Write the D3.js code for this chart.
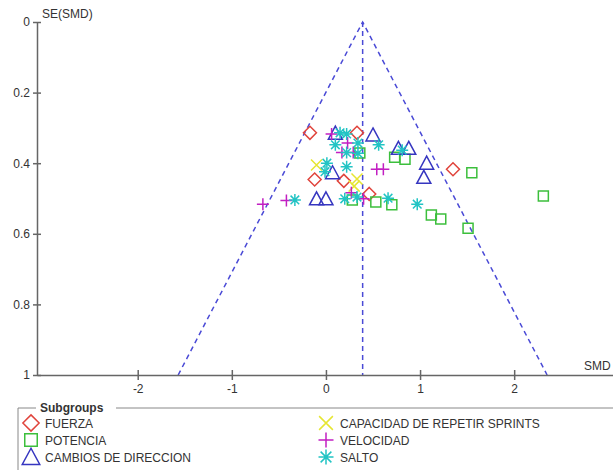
<!DOCTYPE html>
<html>
<head>
<meta charset="utf-8">
<script src="https://cdn.jsdelivr.net/npm/d3@7"></script>
<style>
  body { margin: 0; background: #fff; }
  svg { display: block; font-family: "Liberation Sans", Arial, sans-serif; }
  .axis text { font-size: 12px; fill: #333; }
  .axis path, .axis line { stroke: #666; stroke-width: 1.5; }
</style>
</head>
<body>
<div id="chart"></div>
<script>
// pooled SMD and funnel limits (SE axis 0..1)
const pooled = 0.39;
const xTicks = [-2, -1, 0, 1, 2];
const yTicks = [0, 0.2, 0.4, 0.6, 0.8, 1];

// [SMD, SE] per study, by subgroup
const fuerza = [[-0.17, 0.314], [0.33, 0.314], [-0.12, 0.446], [0.19, 0.45], [0.46, 0.487], [1.35, 0.417]];
const potencia = [[0.36, 0.371], [0.73, 0.383], [0.84, 0.389], [1.55, 0.427], [2.31, 0.493],
  [0.53, 0.51], [0.70, 0.518], [1.12, 0.547], [1.22, 0.558], [1.51, 0.584], [0.28, 0.504]];
const cambios = [[0.10, 0.315], [0.50, 0.32], [0.77, 0.358], [0.88, 0.358], [1.07, 0.40],
  [1.04, 0.44], [0.07, 0.427], [-0.10, 0.501], [0.0, 0.501]];
const sprints = [[-0.10, 0.405], [0.33, 0.445], [0.30, 0.465]];
const velocidad = [[-0.67, 0.516], [-0.42, 0.506], [0.27, 0.484], [0.06, 0.317], [0.23, 0.343],
  [0.17, 0.37], [0.29, 0.37], [0.54, 0.417], [0.61, 0.417], [0.40, 0.501]];
const salto = [[-0.33, 0.504], [0.20, 0.501], [0.33, 0.496], [0.66, 0.499], [0.97, 0.516],
  [0.15, 0.314], [0.22, 0.317], [0.10, 0.348], [0.34, 0.343], [0.22, 0.37], [0.34, 0.372],
  [0.56, 0.348], [0.01, 0.40], [-0.01, 0.424], [0.22, 0.41], [0.81, 0.363]];

const width = 613, height = 470;

const svg = d3.select("#chart").append("svg")
  .attr("width", width).attr("height", height);

const x = d3.scaleLinear().domain([-3.07, 3.05]).range([37, 613]);
const y = d3.scaleLinear().domain([0, 1]).range([22, 375]);

// symbol paths, centred on 0,0
const shapes = {
  diamond: "M0,-6.5L6.5,0L0,6.5L-6.5,0Z",
  square: "M-5,-5H5V5H-5Z",
  triangle: "M0,-7L7,6H-7Z",
  cross: "M-5.5,-5.5L5.5,5.5M5.5,-5.5L-5.5,5.5",
  plus: "M-6,0H6M0,-6V6",
  star: "M-6,0H6M0,-6V6M-4.3,-4.3L4.3,4.3M4.3,-4.3L-4.3,4.3"
};

const groups = [
  { name: "FUERZA", data: fuerza, shape: "diamond", color: "#e0443c" },
  { name: "POTENCIA", data: potencia, shape: "square", color: "#3cbf3c" },
  { name: "CAMBIOS DE DIRECCION", data: cambios, shape: "triangle", color: "#3636c0" },
  { name: "CAPACIDAD DE REPETIR SPRINTS", data: sprints, shape: "cross", color: "#e6e632" },
  { name: "VELOCIDAD", data: velocidad, shape: "plus", color: "#c21fc2" },
  { name: "SALTO", data: salto, shape: "star", color: "#22c4c4" }
];

// funnel
svg.append("path")
  .attr("d", d3.line()([
    [x(pooled - 1.96), y(1)], [x(pooled), y(0)], [x(pooled + 1.96), y(1)]
  ]))
  .attr("fill", "none").attr("stroke", "#4a4ad6")
  .attr("stroke-width", 1.5).attr("stroke-dasharray", "5,4");
svg.append("line")
  .attr("x1", x(pooled)).attr("x2", x(pooled))
  .attr("y1", y(0)).attr("y2", y(1))
  .attr("stroke", "#4a4ad6").attr("stroke-width", 1.5).attr("stroke-dasharray", "5,4");

// axes
const yAxis = svg.append("g").attr("class", "axis")
  .attr("transform", "translate(37,0)")
  .call(d3.axisLeft(y).tickValues(yTicks).tickSize(4).tickSizeOuter(0).tickPadding(3)
    .tickFormat(d => String(d)));
yAxis.selectAll(".tick line").attr("x1", 4);

const xAxis = svg.append("g").attr("class", "axis")
  .attr("transform", "translate(0,375)")
  .call(d3.axisBottom(x).tickValues(xTicks).tickSize(5).tickSizeOuter(0).tickPadding(4)
    .tickFormat(d => String(d)));
xAxis.selectAll(".tick line").attr("y1", -5);

svg.append("text").attr("x", 42).attr("y", 18)
  .attr("font-size", 12).attr("fill", "#333").text("SE(SMD)");
svg.append("text").attr("x", 584).attr("y", 370)
  .attr("font-size", 12).attr("fill", "#333").text("SMD");

// points
groups.forEach(g => {
  svg.append("g").selectAll("path")
    .data(g.data).enter().append("path")
    .attr("d", shapes[g.shape])
    .attr("transform", d => `translate(${x(d[0])},${y(d[1])})`)
    .attr("fill", "none").attr("stroke", g.color).attr("stroke-width", 1.5);
});

// legend
const lg = svg.append("g");
lg.append("path")
  .attr("d", "M18,475V408H620")
  .attr("fill", "none").attr("stroke", "#888").attr("stroke-width", 1);
lg.append("rect").attr("x", 36).attr("y", 402).attr("width", 80).attr("height", 12).attr("fill", "#fff");
lg.append("text").attr("x", 40).attr("y", 412)
  .attr("font-size", 12).attr("font-weight", "bold").attr("fill", "#333").text("Subgroups");

const item = lg.selectAll(".item").data(groups).enter().append("g")
  .attr("transform", (d, i) => `translate(${i < 3 ? 31 : 326},${423 + (i % 3) * 17})`);
item.append("path")
  .attr("d", d => shapes[d.shape])
  .attr("transform", "scale(1.25)")
  .attr("fill", "none").attr("stroke", d => d.color).attr("stroke-width", 1.2);
item.append("text").attr("x", 14).attr("y", 4.5)
  .attr("font-size", 12).attr("fill", "#333").text(d => d.name);
</script>
</body>
</html>
